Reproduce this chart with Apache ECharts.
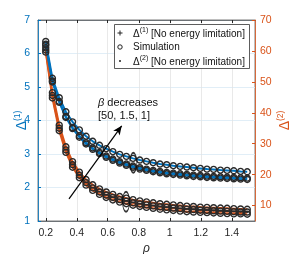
<!DOCTYPE html>
<html><head><meta charset="utf-8">
<script src="https://cdn.jsdelivr.net/npm/echarts@6/dist/echarts.min.js"></script>
<style>html,body{margin:0;padding:0;background:#fff}#c{width:291px;height:254px}</style>
</head><body><div id="c"></div>
<script>
// rho values (x)
const rho = [0.2, 0.243, 0.287, 0.33, 0.373, 0.417, 0.46, 0.503, 0.547, 0.59, 0.633, 0.677, 0.72, 0.763, 0.807, 0.85, 0.893, 0.937, 0.98, 1.023, 1.067, 1.11, 1.153, 1.197, 1.24, 1.283, 1.327, 1.37, 1.413, 1.457, 1.5];
// Delta(1), left axis, three beta values
const d1A = [6.36, 5.26, 4.68, 4.26, 3.96, 3.72, 3.53, 3.38, 3.26, 3.16, 3.07, 2.99, 2.93, 2.87, 2.82, 2.78, 2.74, 2.70, 2.68, 2.65, 2.63, 2.61, 2.59, 2.57, 2.55, 2.54, 2.52, 2.51, 2.50, 2.48, 2.47];
const d1B = [6.28, 5.18, 4.57, 4.12, 3.79, 3.54, 3.34, 3.18, 3.05, 2.94, 2.85, 2.77, 2.70, 2.64, 2.59, 2.55, 2.51, 2.48, 2.45, 2.43, 2.41, 2.39, 2.37, 2.36, 2.34, 2.33, 2.32, 2.31, 2.30, 2.29, 2.28];
const d1C = [6.25, 5.15, 4.54, 4.09, 3.76, 3.50, 3.30, 3.14, 3.01, 2.90, 2.81, 2.73, 2.66, 2.60, 2.55, 2.51, 2.47, 2.44, 2.41, 2.39, 2.37, 2.35, 2.33, 2.32, 2.30, 2.29, 2.28, 2.27, 2.26, 2.25, 2.24];
// Delta(2), right axis, three beta values
const d2A = [61.0, 46.5, 36.0, 29.0, 24.2, 20.8, 18.4, 16.7, 15.4, 14.4, 13.6, 12.9, 12.4, 11.9, 11.5, 11.2, 10.9, 10.6, 10.4, 10.2, 10.0, 9.8, 9.7, 9.5, 9.4, 9.3, 9.2, 9.1, 9.0, 8.9, 8.8];
const d2B = [60.3, 45.6, 35.0, 28.0, 23.2, 19.8, 17.4, 15.7, 14.4, 13.4, 12.6, 11.9, 11.4, 10.9, 10.5, 10.2, 9.9, 9.6, 9.4, 9.2, 9.0, 8.8, 8.7, 8.5, 8.4, 8.3, 8.2, 8.1, 8.0, 7.9, 7.9];
const d2C = [59.6, 44.8, 34.2, 27.2, 22.4, 19.0, 16.6, 14.9, 13.6, 12.6, 11.8, 11.1, 10.6, 10.1, 9.7, 9.4, 9.1, 8.8, 8.6, 8.4, 8.2, 8.0, 7.9, 7.8, 7.7, 7.6, 7.5, 7.4, 7.3, 7.3, 7.2];
const xTicks = [0.2, 0.4, 0.6, 0.8, 1, 1.2, 1.4];
const rightTicks = [10, 20, 30, 40, 50, 60, 70];
const arrowPts = [[0.35, 1.66], [0.69, 3.84]];
const ellipses = [[0.765, 2.74], [0.718, 1.576]];

const BLUE = '#0072BD', ORANGE = '#D95319', FONT = 'Liberation Sans';
const pair = (ys) => rho.map((x, i) => [x, ys[i]]);

function curve(ys, color, yIdx) {
  return {
    type: 'line', yAxisIndex: yIdx, data: pair(ys), z: 3,
    lineStyle: { color: color, width: 2 },
    symbol: 'circle', symbolSize: 6, showSymbol: true,
    itemStyle: { color: 'rgba(0,0,0,0)', borderColor: '#2a2a2a', borderWidth: 1.4 },
    emphasis: { disabled: true }, animation: false
  };
}

const chart = echarts.init(document.getElementById('c'), null, { renderer: 'canvas' });
chart.setOption({
  animation: false,
  textStyle: { fontFamily: FONT },
  grid: { left: 38, right: 36, top: 20, bottom: 33, containLabel: false, outerBoundsMode: 'none',
          show: true, borderColor: '#262626', borderWidth: 0.6 },
  xAxis: [{
    type: 'value', min: 0.15, max: 1.55,
    name: 'ρ', nameLocation: 'middle', nameGap: 22, nameMoveOverlap: false,
    nameTextStyle: { fontStyle: 'italic', fontSize: 12, color: '#262626', fontFamily: FONT },
    axisLine: { lineStyle: { color: '#262626', width: 0.6 } },
    axisTick: { inside: true, length: 3, customValues: xTicks, lineStyle: { color: '#262626' } },
    axisLabel: { customValues: xTicks, color: '#262626', fontSize: 10.5, margin: 7, fontFamily: FONT },
    splitLine: { show: true, lineStyle: { color: '#e3e3e3', width: 0.8 } }
  }, {
    type: 'value', min: 0.15, max: 1.55, position: 'top',
    axisLine: { lineStyle: { color: '#262626', width: 0.6 } },
    axisTick: { inside: true, length: 3, customValues: xTicks, lineStyle: { color: '#262626' } },
    axisLabel: { show: false }, splitLine: { show: false }
  }],
  yAxis: [{
    type: 'value', min: 1, max: 7, interval: 1, position: 'left',
    name: '{m|Δ}{s|(1)}', nameLocation: 'middle', nameGap: 9, nameRotate: 90, nameMoveOverlap: false,
    nameTextStyle: { rich: {
      m: { fontSize: 14, color: BLUE, fontFamily: FONT, verticalAlign: 'bottom', lineHeight: 16 },
      s: { fontSize: 8.5, color: BLUE, fontFamily: FONT, verticalAlign: 'top', lineHeight: 9 } } },
    axisLine: { lineStyle: { color: BLUE, width: 0.8 } },
    axisTick: { inside: true, length: 3, lineStyle: { color: BLUE } },
    axisLabel: { color: BLUE, fontSize: 10.5, margin: 8, fontFamily: FONT },
    splitLine: { show: true, lineStyle: { color: '#d9eaf5', width: 0.8 } }
  }, {
    type: 'value', min: 5, max: 70, position: 'right',
    name: '{m|Δ}{s|(2)}', nameLocation: 'middle', nameGap: 21, nameRotate: 90, nameMoveOverlap: false,
    nameTextStyle: { rich: {
      m: { fontSize: 14, color: ORANGE, fontFamily: FONT, verticalAlign: 'bottom', lineHeight: 16 },
      s: { fontSize: 8.5, color: ORANGE, fontFamily: FONT, verticalAlign: 'top', lineHeight: 9 } } },
    axisLine: { lineStyle: { color: ORANGE, width: 0.8 } },
    axisTick: { inside: true, length: 3, customValues: rightTicks, lineStyle: { color: ORANGE } },
    axisLabel: { customValues: rightTicks, color: ORANGE, fontSize: 10.5, margin: 5, fontFamily: FONT },
    splitLine: { show: false }
  }],
  series: [
    curve(d2A, ORANGE, 1), curve(d2B, ORANGE, 1), curve(d2C, ORANGE, 1),
    curve(d1A, BLUE, 0), curve(d1B, BLUE, 0), curve(d1C, BLUE, 0),
    {
      type: 'scatter', yAxisIndex: 0, data: ellipses, symbol: 'circle', symbolSize: [7, 20], z: 5,
      itemStyle: { color: 'rgba(0,0,0,0)', borderColor: '#000', borderWidth: 1.2 },
      markLine: {
        silent: true, symbol: ['none', 'arrow'], symbolSize: [6, 9],
        lineStyle: { color: '#000', width: 1.2, type: 'solid' }, label: { show: false },
        data: [[{ coord: arrowPts[0] }, { coord: arrowPts[1] }]]
      }
    }
  ],
  graphic: [
    { type: 'rect', z: 10, shape: { x: 114.5, y: 24.5, width: 135, height: 44 },
      style: { fill: '#fff', stroke: '#333', lineWidth: 0.8 } },
    { type: 'line', z: 11, shape: { x1: 117.5, y1: 33, x2: 122.5, y2: 33 }, style: { stroke: '#222', lineWidth: 1 } },
    { type: 'line', z: 11, shape: { x1: 120, y1: 30.5, x2: 120, y2: 35.5 }, style: { stroke: '#222', lineWidth: 1 } },
    { type: 'circle', z: 11, shape: { cx: 120, cy: 47, r: 2.2 }, style: { fill: 'none', stroke: '#222', lineWidth: 1 } },
    { type: 'circle', z: 11, shape: { cx: 120, cy: 61, r: 1 }, style: { fill: '#222' } },
    { type: 'text', z: 11, x: 133, y: 33, style: { text: '{m|Δ}{s|(1)}{m| [No energy limitation]}', verticalAlign: 'middle',
      rich: { m: { fontSize: 10, fontFamily: FONT, fill: '#111', verticalAlign: 'bottom', lineHeight: 13 },
              s: { fontSize: 7, fontFamily: FONT, fill: '#111', verticalAlign: 'top', lineHeight: 8 } } } },
    { type: 'text', z: 11, x: 133, y: 47, style: { text: 'Simulation', verticalAlign: 'middle', fontSize: 10, fontFamily: FONT, fill: '#111' } },
    { type: 'text', z: 11, x: 133, y: 61, style: { text: '{m|Δ}{s|(2)}{m| [No energy limitation]}', verticalAlign: 'middle',
      rich: { m: { fontSize: 10, fontFamily: FONT, fill: '#111', verticalAlign: 'bottom', lineHeight: 13 },
              s: { fontSize: 7, fontFamily: FONT, fill: '#111', verticalAlign: 'top', lineHeight: 8 } } } },
    { type: 'text', z: 11, x: 98, y: 103, style: { text: '{b|β}{m| decreases}', verticalAlign: 'middle',
      rich: { b: { fontSize: 11, fontStyle: 'italic', fontFamily: FONT, fill: '#111' }, m: { fontSize: 11, fontFamily: FONT, fill: '#111' } } } },
    { type: 'text', z: 11, x: 98, y: 116, style: { text: '[50, 1.5, 1]', verticalAlign: 'middle', fontSize: 11, fontFamily: FONT, fill: '#111' } }
  ]
});
</script></body></html>
